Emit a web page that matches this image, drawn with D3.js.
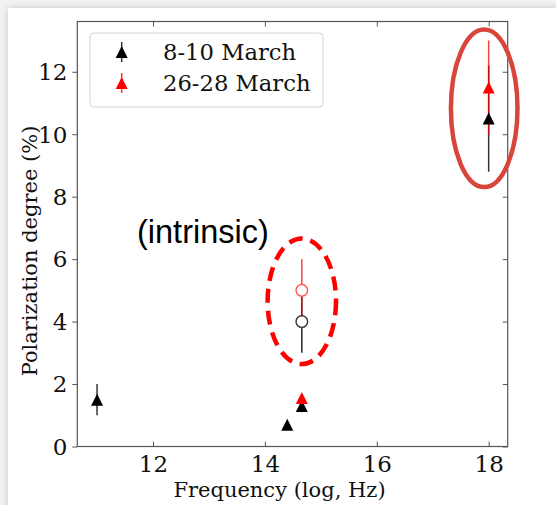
<!DOCTYPE html>
<html>
<head>
<meta charset="utf-8">
<script src="https://cdn.jsdelivr.net/npm/d3@7"></script>
<style>
  html, body { margin: 0; padding: 0; background: #f0f0f0; }
  svg { display: block; }
</style>
</head>
<body>
<svg id="chart" width="556" height="505"></svg>
<script>
// Observation epochs
const seriesNames = ["8-10 March", "26-28 March"];
const seriesColors = ["#000000", "#ff0000"];

// 8-10 March: log frequency, polarization degree (%), error
const marchEarlyFreq = [11.0, 14.4, 14.66, 18.0];
const marchEarlyPol  = [1.5, 0.7, 1.3, 10.5];
const marchEarlyErr  = [0.5, 0, 0.2, 1.7];

// 26-28 March
const marchLateFreq = [14.66, 18.0];
const marchLatePol  = [1.55, 11.5];
const marchLateErr  = [0, 1.5];

// Intrinsic (host-corrected) optical polarization, one per epoch
const intrinsicFreq = [14.66, 14.66];
const intrinsicPol  = [4.0, 5.0];
const intrinsicErr  = [1.0, 1.0];

const xTicks = [12, 14, 16, 18];
const yTicks = [0, 2, 4, 6, 8, 10, 12];

const svg = d3.select("#chart");
const W = 556, H = 505;

// card with a soft shadow
const defs = svg.append("defs");
const sh = defs.append("filter").attr("id", "shadow").attr("x", "-5%").attr("y", "-5%").attr("width", "110%").attr("height", "110%");
sh.append("feDropShadow").attr("dx", 0).attr("dy", 0).attr("stdDeviation", 3).attr("flood-color", "#000").attr("flood-opacity", 0.18);
svg.append("rect").attr("x", 0).attr("y", 0).attr("width", W).attr("height", H).attr("fill", "#f2f2f2");
svg.append("rect").attr("x", 8).attr("y", 8).attr("width", W).attr("height", H).attr("fill", "#fff").attr("filter", "url(#shadow)");

const m = { left: 77.3, right: 507.7, top: 21.5, bottom: 446.5 };
const x = d3.scaleLinear().domain([10.647, 18.34]).range([m.left, m.right]);
const y = d3.scaleLinear().domain([0, 13.61]).range([m.bottom, m.top]);

const serif = "'DejaVu Serif', serif";
const axisColor = "#555";

// axes: left ticks point out, the other three point in
const gL = svg.append("g").attr("transform", `translate(${m.left},0)`)
  .call(d3.axisLeft(y).tickValues(yTicks).tickSize(5).tickPadding(4).tickFormat(d3.format("d")));
const gR = svg.append("g").attr("transform", `translate(${m.right},0)`)
  .call(d3.axisRight(y).tickValues(yTicks).tickSize(-5).tickFormat(""));
const gB = svg.append("g").attr("transform", `translate(0,${m.bottom})`)
  .call(d3.axisBottom(x).tickValues(xTicks).tickSize(-5).tickPadding(9).tickFormat(d3.format("d")));
const gT = svg.append("g").attr("transform", `translate(0,${m.top})`)
  .call(d3.axisTop(x).tickValues(xTicks).tickSize(-5).tickFormat(""));
[gL, gR, gB, gT].forEach(g => {
  g.select(".domain").remove();
  g.selectAll(".tick line").attr("stroke", axisColor).attr("stroke-width", 1);
  g.selectAll(".tick text").attr("fill", "#111").style("font-family", serif).style("font-size", "23px");
});
gB.selectAll(".tick text").attr("dy", "0.71em");
gL.selectAll(".tick text").attr("dx", "-1px").attr("dy", "0.34em");
svg.append("rect").attr("x", m.left).attr("y", m.top).attr("width", m.right - m.left).attr("height", m.bottom - m.top)
  .attr("fill", "none").attr("stroke", axisColor).attr("stroke-width", 1.2);

// axis titles
svg.append("text").attr("x", (m.left + m.right) / 2 - 13).attr("y", 497).attr("text-anchor", "middle")
  .style("font-family", serif).style("font-size", "21px").attr("fill", "#111").text("Frequency (log, Hz)");
svg.append("text").attr("transform", `translate(37,${(m.top + m.bottom) / 2 + 17}) rotate(-90)`).attr("text-anchor", "middle")
  .style("font-family", serif).style("font-size", "21px").attr("fill", "#111").text("Polarization degree (%)");

const tri = (w) => `M0,${-w / 2}L${-w / 2},${w / 2}L${w / 2},${w / 2}Z`;
const mk = (fx, py, pe) => fx.map((f, i) => ({ f, p: py[i], e: pe[i] }));
const early = mk(marchEarlyFreq, marchEarlyPol, marchEarlyErr);
const late = mk(marchLateFreq, marchLatePol, marchLateErr);
const intr = mk(intrinsicFreq, intrinsicPol, intrinsicErr);

const plot = svg.append("g");
// error bars below all markers
function bars(data, color, op) {
  plot.append("g").selectAll("line").data(data.filter(d => d.e > 0)).join("line")
    .attr("x1", d => x(d.f)).attr("x2", d => x(d.f))
    .attr("y1", d => y(d.p - d.e)).attr("y2", d => y(d.p + d.e))
    .attr("stroke", color).attr("stroke-width", 1.5).attr("stroke-opacity", op);
}
bars(early, "#000", 0.8);
bars(late, "#ff0000", 0.75);
bars([intr[0]], "#000", 0.85);
bars([intr[1]], "#ff0000", 0.75);

function tris(data, color) {
  plot.append("g").selectAll("path").data(data).join("path")
    .attr("transform", d => `translate(${x(d.f)},${y(d.p)})`)
    .attr("d", tri(12)).attr("fill", color);
}
tris(early, "#000");
tris(late, "#ff0000");

plot.append("g").selectAll("circle").data(intr).join("circle")
  .attr("cx", d => x(d.f)).attr("cy", d => y(d.p)).attr("r", 5.8)
  .attr("fill", "#fff").attr("stroke", (d, i) => i === 0 ? "#333" : "#ff5555").attr("stroke-width", 1.4);

// legend
const lg = svg.append("g");
lg.append("rect").attr("x", 90).attr("y", 33).attr("width", 233).attr("height", 74).attr("rx", 4)
  .attr("fill", "#fff").attr("fill-opacity", 0.8).attr("stroke", "#d6d6d6").attr("stroke-width", 1);
seriesNames.forEach((name, i) => {
  const cy = 52 + i * 31;
  lg.append("line").attr("x1", 121.7).attr("x2", 121.7).attr("y1", cy - 10).attr("y2", cy + 10)
    .attr("stroke", seriesColors[i]).attr("stroke-width", 1.5).attr("stroke-opacity", 0.8);
  lg.append("path").attr("transform", `translate(121.7,${cy})`).attr("d", tri(12)).attr("fill", seriesColors[i]);
  lg.append("text").attr("x", 163).attr("y", cy).attr("dy", "0.36em")
    .style("font-family", serif).style("font-size", "22.7px").attr("fill", "#111").text(name);
});

// annotations
svg.append("text").attr("x", 137).attr("y", 243).style("font-family", "'Liberation Sans', Arial, sans-serif")
  .style("font-size", "32.5px").attr("fill", "#000").text("(intrinsic)");
svg.append("ellipse").attr("cx", x(14.66)).attr("cy", y(4.65)).attr("rx", 34.2).attr("ry", 62.8)
  .attr("fill", "none").attr("stroke", "#ff0000").attr("stroke-width", 4.5).attr("stroke-dasharray", "14 8");
svg.append("ellipse").attr("cx", x(17.92)).attr("cy", y(10.83)).attr("rx", 33.3).attr("ry", 78.8)
  .attr("fill", "none").attr("stroke", "#d9453a").attr("stroke-width", 4.5);
</script>
</body>
</html>
